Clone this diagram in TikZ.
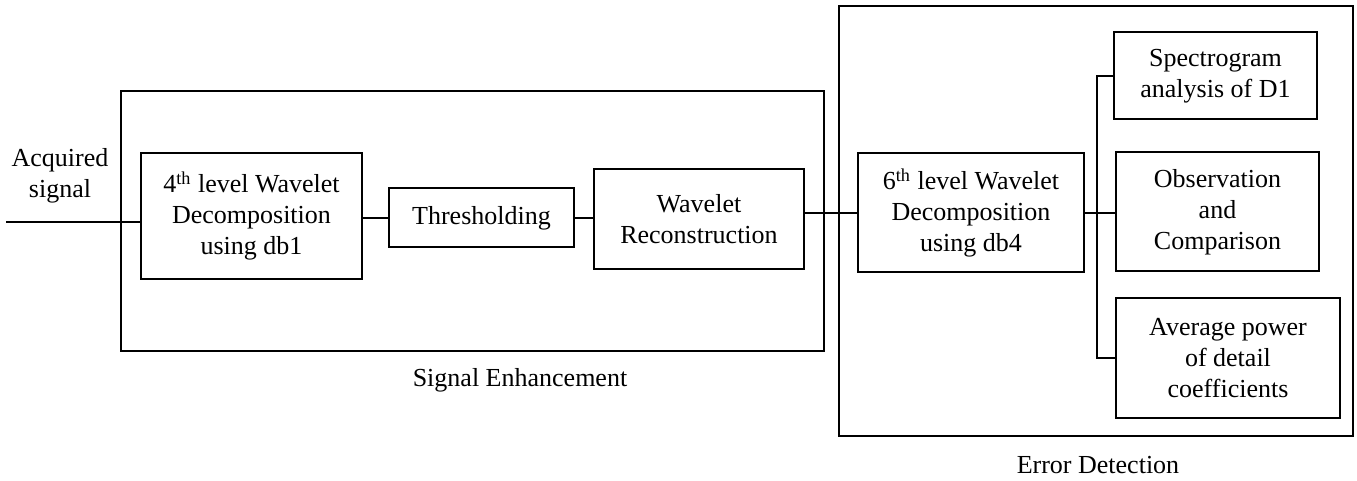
\documentclass[tikz,border=0pt]{standalone}
\usepackage{fontspec}
\setmainfont{Liberation Serif}
\begin{document}
\begin{tikzpicture}[x=0.5pt,y=-0.5pt,
  every node/.style={font=\fontsize{13}{15.5}\selectfont, align=center, inner sep=0pt, outer sep=0pt},
  blk/.style={draw, line width=1pt},
  grp/.style={draw, line width=1pt},
  conn/.style={line width=1pt}]
\useasboundingbox (0,0) rectangle (1357,481);
% group boxes
\node[grp, minimum width=351.5pt, minimum height=130pt] (SE) at (472.5,221) {};
\node[grp, minimum width=257pt, minimum height=215pt] (ED) at (1096,221) {};
\node (SElab) at (520,380) {Signal Enhancement};
\node (EDlab) at (1098,465) {Error Detection};
% input
\node (acq) at (60,176) {Acquired\\signal};
\coordinate (in) at (6,222);
% blocks
\node[blk, minimum width=110.5pt, minimum height=63pt] (A) at (251.5,216) {4\textsuperscript{th} level Wavelet\\Decomposition\\using db1};
\node[blk, minimum width=92.5pt, minimum height=29.5pt] (Thr) at (481.5,218) {Thresholding};
\node[blk, minimum width=105pt, minimum height=50pt] (WR) at (699,219) {Wavelet\\Reconstruction};
\node[blk, minimum width=113pt, minimum height=59.5pt] (Six) at (971,213) {6\textsuperscript{th} level Wavelet\\Decomposition\\using db4};
\node[blk, minimum width=101.5pt, minimum height=43.5pt] (Spec) at (1215.5,76) {Spectrogram\\analysis of D1};
\node[blk, minimum width=101.5pt, minimum height=59.5pt] (Obs) at (1217.5,212) {Observation\\and\\Comparison};
\node[blk, minimum width=112pt, minimum height=59.5pt] (Avg) at (1228,358) {Average power\\of detail\\coefficients};
\coordinate (bus) at (1097,0);
% connectors
\draw[conn] (in) -- (in -| A.west);
\draw[conn] (A.east |- Thr) -- (Thr.west);
\draw[conn] (Thr.east) -- (Thr.east -| WR.west);
\draw[conn] (WR.east |- Six) -- (Six.west);
\draw[conn] (Six.east) -- (Six.east -| Obs.west);
\draw[conn] (Spec.west) -- (Spec.west -| bus) -- (Avg.west -| bus) -- (Avg.west);
\end{tikzpicture}
\end{document}
